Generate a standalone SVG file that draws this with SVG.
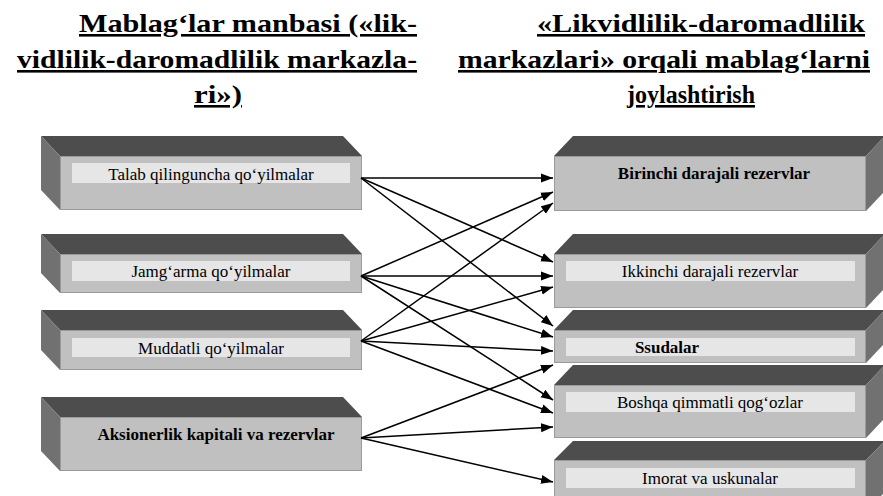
<svg xmlns="http://www.w3.org/2000/svg" width="883" height="496" viewBox="0 0 883 496">
<style>
.top{fill:#4d4d4d}
.side{fill:#717171}
.front{fill:#c0c0c0;stroke:#9a9a9a;stroke-width:1}
.inner{fill:#e6e6e6}
.t{font-family:'Liberation Serif','Times New Roman',serif;font-size:17px;fill:#000;text-anchor:middle}
.b{font-weight:bold}
.title{font-family:'Liberation Serif','Times New Roman',serif;font-size:26px;font-weight:bold;fill:#000;text-decoration:underline}
.c{stroke:#000;stroke-width:1.5;fill:none;marker-end:url(#ah)}
</style>
<defs>
<marker id="ah" markerUnits="userSpaceOnUse" markerWidth="13" markerHeight="10" refX="12" refY="5" orient="auto">
<path d="M0,0.5 L12,5 L0,9.5 z" fill="#000"/>
</marker>
</defs>
<rect width="883" height="496" fill="#fff"/>
<g id="title-left">
<text class="title" x="79" y="32" textLength="338" lengthAdjust="spacingAndGlyphs">Mablag‘lar manbasi («lik-</text>
<text class="title" x="17" y="68" textLength="400" lengthAdjust="spacingAndGlyphs">vidlilik-daromadlilik markazla-</text>
<text class="title" x="194" y="103" textLength="48" lengthAdjust="spacingAndGlyphs">ri»)</text>
</g>
<g id="title-right">
<text class="title" x="537" y="32" textLength="328" lengthAdjust="spacingAndGlyphs">«Likvidlilik-daromadlilik</text>
<text class="title" x="458" y="68" textLength="412" lengthAdjust="spacingAndGlyphs">markazlari» orqali mablag‘larni</text>
<text class="title" x="627" y="103" textLength="128" lengthAdjust="spacingAndGlyphs">joylashtirish</text>
</g>
<g id="src1">
<polygon class="top" points="60,156 362,156 343,136 41,136"/>
<polygon class="side" points="60,156 41,136 41,190 60,210"/>
<rect class="front" x="60.5" y="156.5" width="301" height="53"/>
<rect class="inner" x="72" y="163" width="278" height="20"/>
<text class="t" x="211" y="180">Talab qilinguncha qo‘yilmalar</text>
</g>
<g id="src2">
<polygon class="top" points="60,254 362,254 343,234 41,234"/>
<polygon class="side" points="60,254 41,234 41,273 60,293"/>
<rect class="front" x="60.5" y="254.5" width="301" height="38"/>
<rect class="inner" x="72" y="261" width="278" height="20"/>
<text class="t" x="211" y="277">Jamg‘arma qo‘yilmalar</text>
</g>
<g id="src3">
<polygon class="top" points="60,330 362,330 343,310 41,310"/>
<polygon class="side" points="60,330 41,310 41,350 60,370"/>
<rect class="front" x="60.5" y="330.5" width="301" height="39"/>
<rect class="inner" x="72" y="338" width="278" height="19"/>
<text class="t" x="211" y="354">Muddatli qo‘yilmalar</text>
</g>
<g id="src4">
<polygon class="top" points="60,417 362,417 343,397 41,397"/>
<polygon class="side" points="60,417 41,397 41,451 60,471"/>
<rect class="front" x="60.5" y="417.5" width="301" height="53"/>
<text class="t b" x="216" y="440">Aksionerlik kapitali va rezervlar</text>
</g>
<g id="dst1">
<polygon class="top" points="554,156 866,156 885,136 573,136"/>
<polygon class="side" points="866,156 885,136 885,191 866,211"/>
<rect class="front" x="554.5" y="156.5" width="311" height="54"/>
<text class="t b" x="714" y="179">Birinchi darajali rezervlar</text>
</g>
<g id="dst2">
<polygon class="top" points="554,254 866,254 885,234 573,234"/>
<polygon class="side" points="866,254 885,234 885,288 866,308"/>
<rect class="front" x="554.5" y="254.5" width="311" height="53"/>
<rect class="inner" x="566" y="261" width="289" height="20"/>
<text class="t" x="710" y="277">Ikkinchi darajali rezervlar</text>
</g>
<g id="dst3">
<polygon class="top" points="554,330 866,330 885,310 573,310"/>
<polygon class="side" points="866,330 885,310 885,343 866,363"/>
<rect class="front" x="554.5" y="330.5" width="311" height="32"/>
<rect class="inner" x="566" y="338" width="289" height="18"/>
<text class="t b" x="667" y="353">Ssudalar</text>
</g>
<g id="dst4">
<polygon class="top" points="554,385 866,385 885,365 573,365"/>
<polygon class="side" points="866,385 885,365 885,418 866,438"/>
<rect class="front" x="554.5" y="385.5" width="311" height="52"/>
<rect class="inner" x="566" y="392" width="289" height="20"/>
<text class="t" x="710" y="408">Boshqa qimmatli qog‘ozlar</text>
</g>
<g id="dst5">
<polygon class="top" points="554,460 866,460 885,441 573,441"/>
<polygon class="side" points="866,460 885,441 885,492 866,511"/>
<rect class="front" x="554.5" y="460.5" width="311" height="50"/>
<rect class="inner" x="566" y="468" width="289" height="20"/>
<text class="t" x="710" y="484">Imorat va uskunalar</text>
</g>
<g id="connectors">
<line class="c" x1="361" y1="178" x2="553" y2="178"/>
<line class="c" x1="361" y1="178" x2="553" y2="262"/>
<line class="c" x1="361" y1="178" x2="553" y2="326"/>
<line class="c" x1="361" y1="276" x2="553" y2="192"/>
<line class="c" x1="361" y1="276" x2="553" y2="276"/>
<line class="c" x1="361" y1="276" x2="553" y2="337"/>
<line class="c" x1="361" y1="276" x2="553" y2="400"/>
<line class="c" x1="361" y1="341" x2="553" y2="203"/>
<line class="c" x1="361" y1="341" x2="553" y2="287"/>
<line class="c" x1="361" y1="341" x2="553" y2="351"/>
<line class="c" x1="361" y1="341" x2="553" y2="413"/>
<line class="c" x1="361" y1="438" x2="553" y2="365"/>
<line class="c" x1="361" y1="438" x2="553" y2="427"/>
<line class="c" x1="361" y1="438" x2="553" y2="482"/>
</g>
</svg>
